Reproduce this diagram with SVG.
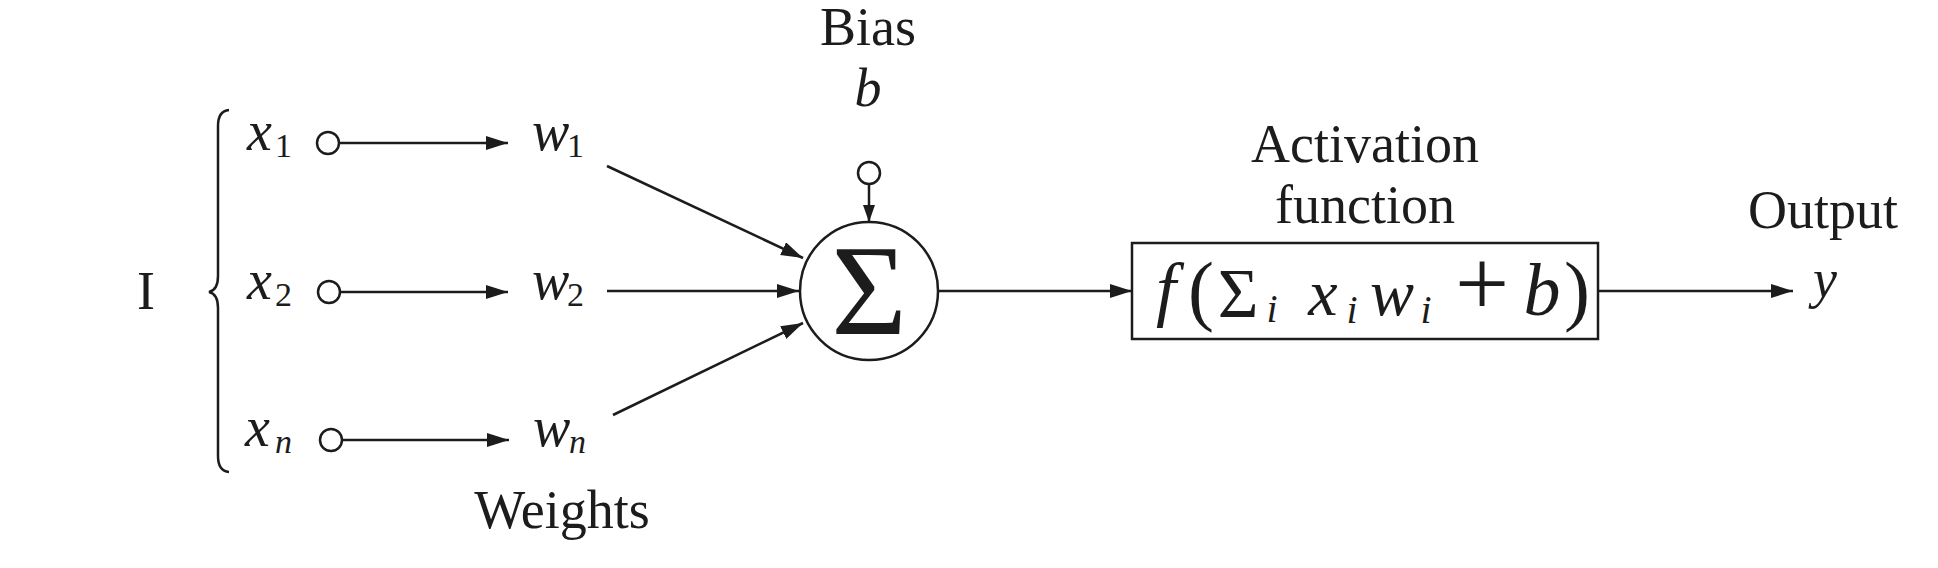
<svg xmlns="http://www.w3.org/2000/svg" width="1938" height="568" viewBox="0 0 1938 568">
<style>
text{font-family:"Liberation Serif","Times New Roman",serif;fill:#1c1c1c}
.lbl{font-size:54px;text-anchor:middle}
.m{font-style:italic}
.sub{font-style:italic;font-size:34px}
.subr{font-size:34px}
.ln{stroke:#1c1c1c;stroke-width:2.5;fill:none}
.dot{stroke:#1c1c1c;stroke-width:2.5;fill:#fff}
</style>
<defs>
<marker id="ah" markerUnits="userSpaceOnUse" markerWidth="24" markerHeight="16" refX="22" refY="7" orient="auto">
<path d="M0,0 L22,7 L0,14 Z" fill="#1c1c1c"/>
</marker>
<marker id="ahs" markerUnits="userSpaceOnUse" markerWidth="20" markerHeight="14" refX="17" refY="6" orient="auto">
<path d="M0,0 L17,6 L0,12 Z" fill="#1c1c1c"/>
</marker>
</defs>
<rect width="1938" height="568" fill="#fff"/>

<g id="inputs-label">
<text class="lbl" x="146" y="309">I</text>
<path class="ln" d="M229,110 Q218,111 218,126 L218,276 Q218,290 209,292 Q218,294 218,308 L218,456 Q218,471 229,472"/>
</g>

<g id="x1"><text class="m" x="247" y="150" font-size="56">x</text><text class="subr" x="275" y="157">1</text><circle class="dot" cx="328" cy="143" r="11"/></g>
<g id="x2"><text class="m" x="247" y="299" font-size="56">x</text><text class="subr" x="275" y="306">2</text><circle class="dot" cx="329" cy="292" r="11"/></g>
<g id="xn"><text class="m" x="245" y="446" font-size="56">x</text><text class="sub" x="275" y="453">n</text><circle class="dot" cx="331" cy="440" r="11"/></g>

<g id="w1"><text class="m" x="532" y="150" font-size="56">w</text><text class="subr" x="567" y="157">1</text></g>
<g id="w2"><text class="m" x="532" y="299" font-size="56">w</text><text class="subr" x="567" y="306">2</text></g>
<g id="wn"><text class="m" x="533" y="446" font-size="56">w</text><text class="sub" x="569" y="453">n</text></g>
<g id="weights-label"><text class="lbl" x="562" y="528">Weights</text></g>

<g id="bias">
<text class="lbl" x="868" y="45">Bias</text>
<text class="lbl m" x="868" y="106">b</text>
<circle class="dot" cx="869" cy="173" r="11"/>
</g>

<g id="sum">
<circle class="dot" cx="869" cy="291" r="69"/>
<text x="869" y="334" font-size="130" text-anchor="middle">Σ</text>
</g>

<g id="activation">
<text class="lbl" x="1365" y="162">Activation</text>
<text class="lbl" x="1365" y="223">function</text>
<rect class="dot" x="1132" y="243" width="466" height="96"/>
<text x="1166" y="313" font-size="72" text-anchor="middle" class="m">f</text>
<text x="1201" y="316" font-size="78" text-anchor="middle">(</text>
<text x="1238" y="317" font-size="70" text-anchor="middle">Σ</text>
<text x="1272" y="322" font-size="40" text-anchor="middle" class="m">i</text>
<text x="1323" y="315" font-size="66" text-anchor="middle" class="m">x</text>
<text x="1352" y="323" font-size="40" text-anchor="middle" class="m">i</text>
<text x="1392" y="315" font-size="66" text-anchor="middle" class="m">w</text>
<text x="1426" y="323" font-size="40" text-anchor="middle" class="m">i</text>
<text x="1482" y="315" font-size="96" text-anchor="middle">+</text>
<text x="1542" y="315" font-size="74" text-anchor="middle" class="m">b</text>
<text x="1577" y="316" font-size="78" text-anchor="middle">)</text>
</g>

<g id="output">
<text class="lbl" x="1823" y="228">Output</text>
<text class="lbl m" x="1825" y="297">y</text>
</g>

<g id="connectors">
<line class="ln" x1="339" y1="143" x2="508" y2="143" marker-end="url(#ah)"/>
<line class="ln" x1="340" y1="292" x2="508" y2="292" marker-end="url(#ah)"/>
<line class="ln" x1="342" y1="440" x2="509" y2="440" marker-end="url(#ah)"/>
<line class="ln" x1="607" y1="166" x2="803" y2="258" marker-end="url(#ah)"/>
<line class="ln" x1="607" y1="291" x2="799" y2="291" marker-end="url(#ah)"/>
<line class="ln" x1="613" y1="415" x2="803" y2="323" marker-end="url(#ah)"/>
<line class="ln" x1="869" y1="184" x2="869" y2="222" marker-end="url(#ahs)"/>
<line class="ln" x1="938" y1="291" x2="1132" y2="291" marker-end="url(#ah)"/>
<line class="ln" x1="1598" y1="291" x2="1793" y2="291" marker-end="url(#ah)"/>
</g>
</svg>
